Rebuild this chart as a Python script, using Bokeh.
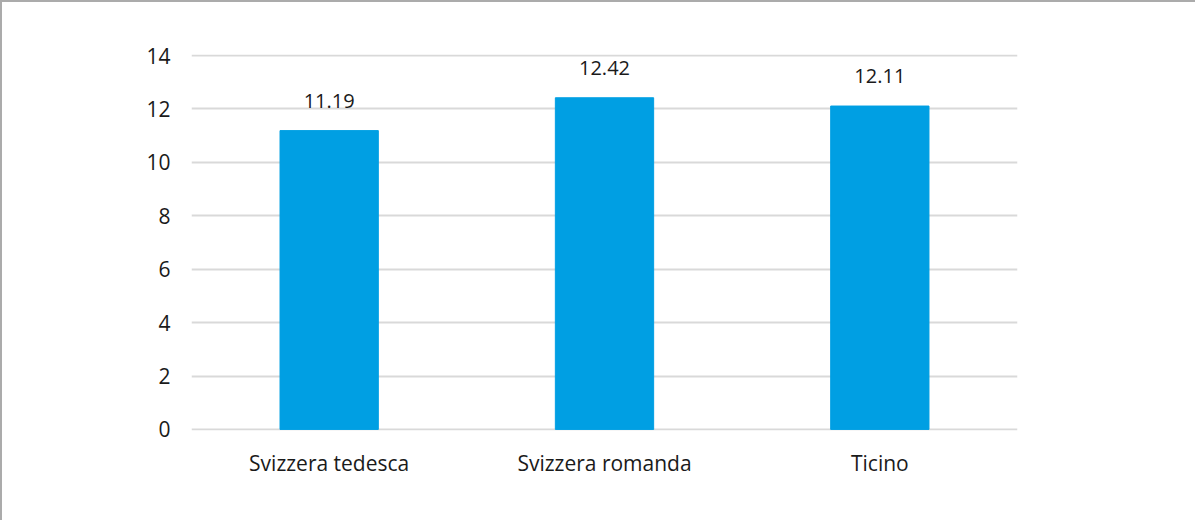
from bokeh.plotting import figure
from bokeh.models import ColumnDataSource, Range1d, FactorRange, LabelSet, FixedTicker
from bokeh.core.properties import value
from bokeh.embed import file_html
from bokeh.resources import INLINE

categories = ["Svizzera tedesca", "Svizzera romanda", "Ticino"]
values = [11.19, 12.42, 12.11]
labels = ["11.19", "12.42", "12.11"]
y_ticks = [0, 2, 4, 6, 8, 10, 12, 14]

FONT = "Open Sans"
src = ColumnDataSource(dict(cat=categories, val=values, lab=labels))

p = figure(width=1195, height=520, x_range=FactorRange(*categories),
           y_range=Range1d(-0.04, 14.04), output_backend="svg",
           toolbar_location=None, min_border_left=189, min_border_right=180,
           min_border_top=52, min_border_bottom=92)
p.styles = {"border-top": "2px solid #ababab", "border-left": "2px solid #ababab",
            "box-sizing": "border-box"}
p.outline_line_color = None
p.vbar(x="cat", top="val", width=0.357, source=src, color="#009FE3")

p.add_layout(LabelSet(x="cat", y="val", text="lab", source=src, text_align="center",
                      text_baseline="middle", y_offset=30, text_font=value(FONT),
                      text_font_size="20px", text_color="#1a1a1a"))

p.yaxis.ticker = FixedTicker(ticks=y_ticks)
for ax in (p.xaxis, p.yaxis):
    ax.axis_line_color = None
    ax.major_tick_line_color = None
    ax.minor_tick_line_color = None
    ax.major_tick_out = 0
    ax.major_tick_in = 0
    ax.major_label_text_font = FONT
    ax.major_label_text_font_size = "21px"
    ax.major_label_text_color = "#1a1a1a"
p.yaxis.major_label_standoff = 21
p.yaxis.major_label_text_baseline = "alphabetic"
p.xaxis.major_label_standoff = 18
p.xgrid.grid_line_color = None
p.ygrid.grid_line_color = "#d9d9d9"
p.ygrid.grid_line_width = 2

open("out.html", "w").write(file_html(p, INLINE))
